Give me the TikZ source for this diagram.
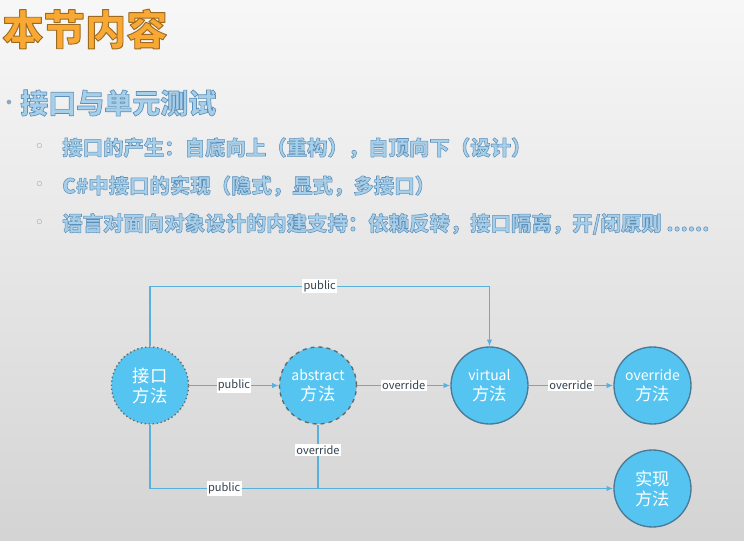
\documentclass[tikz,border=0pt]{standalone}
\usepackage{fontspec}
\setmainfont{Noto Sans CJK SC}
\newfontfamily\symfont{DejaVu Sans}
\usetikzlibrary{arrows.meta}

\definecolor{titlefill}{HTML}{F9A834}
\definecolor{headfill}{HTML}{A6CFEA}
\definecolor{dotgrey}{HTML}{8AA8C0}
\definecolor{methodfill}{HTML}{55C4F0}
\definecolor{methodedge}{HTML}{4A7A98}
\definecolor{linkblue}{HTML}{5AB0DD}
\definecolor{tagtext}{HTML}{33414E}

% outlined text: width, stroke rgb, text
\newcommand{\outlined}[3]{\special{pdf:literal direct #1 w 1 j #2 RG 2 Tr}#3\special{pdf:literal direct 0 Tr}}
\newcommand{\headtext}[2]{\outlined{#1}{0.37 0.56 0.72}{#2}}

\begin{document}
\begin{tikzpicture}[x=0.75pt,y=-0.75pt,
  method/.style={circle, draw=methodedge, line width=1pt, fill=methodfill, text=white, minimum size=57.75pt, inner sep=0pt, align=center, font=\fontsize{13}{15}\selectfont},
  link/.style={draw=linkblue, line width=0.9pt, -{Latex[length=5pt,width=4pt]}},
  linkplain/.style={draw=linkblue, line width=0.9pt},
  tag/.style={fill=white, inner sep=1pt, text=tagtext, font=\fontsize{8.3}{10}\selectfont},
  slide/.style={anchor=west, inner sep=0pt}]
\useasboundingbox (0,0) rectangle (744,541);
\shade[top color=black!3, bottom color=black!17] (0,0) rectangle (744,541);

% slide text
\node[slide, text=titlefill, font=\fontsize{31}{31}\selectfont\bfseries] (title) at (2,29)
  {\outlined{0.7}{0.61 0.42 0.13}{本节内容}};
\node[slide, text=dotgrey, font=\symfont\fontsize{12}{12}\selectfont] (dot) at (4,104) {•};
\node[slide, text=headfill, font=\fontsize{21}{21}\selectfont\bfseries] (head) at (20,103) {\headtext{0.5}{接口与单元测试}};
\node[slide, text=dotgrey, font=\symfont\fontsize{13}{13}\selectfont] (dota) at (34,148) {◦};
\node[slide, text=headfill, font=\fontsize{15.3}{15}\selectfont\bfseries] (linea) at (62,148) {\headtext{0.4}{接口的产生：自底向上（重构），自顶向下（设计）}};
\node[slide, text=dotgrey, font=\symfont\fontsize{13}{13}\selectfont] (dotb) at (34,186) {◦};
\node[slide, text=headfill, font=\fontsize{15.3}{15}\selectfont\bfseries] (lineb) at (62,186) {\headtext{0.4}{C\#中接口的实现（隐式，显式，多接口）}};
\node[slide, text=dotgrey, font=\symfont\fontsize{13}{13}\selectfont] (dotc) at (34,224) {◦};
\node[slide, text=headfill, font=\fontsize{15.3}{15}\selectfont\bfseries] (linec) at (62,224) {\headtext{0.4}{语言对面向对象设计的内建支持：依赖反转，接口隔离，开/闭原则 ......}};

% methods
\node[method, dotted, draw=black!60] (iface) at (150,385.5) {接口\\方法};
\node[method, dashed, draw=black!60] (abs) at (318,385.5) {{\fontsize{10.5}{12}\selectfont abstract}\\方法};
\node[method] (virt) at (489.5,385.5) {{\fontsize{10.5}{12}\selectfont virtual}\\方法};
\node[method] (over) at (652.5,385.5) {{\fontsize{10.5}{12}\selectfont override}\\方法};
\node[method] (impl) at (652.5,488.5) {实现\\方法};

% links
\draw[link] (iface.north) -- ++(0,-60) -| (virt.north) node[tag, pos=0.25] {public};
\draw[link] (iface) -- (abs) node[tag, midway] {public};
\draw[link] (abs) -- (virt) node[tag, midway] {override};
\draw[link] (virt) -- (over) node[tag, midway] {override};
\draw[link] (iface.south) |- (impl.west) node[tag, pos=0.58] {public};
\draw[linkplain] (abs.south) -- (abs.south |- impl.west) node[tag, pos=0.4] {override};
\end{tikzpicture}
\end{document}
